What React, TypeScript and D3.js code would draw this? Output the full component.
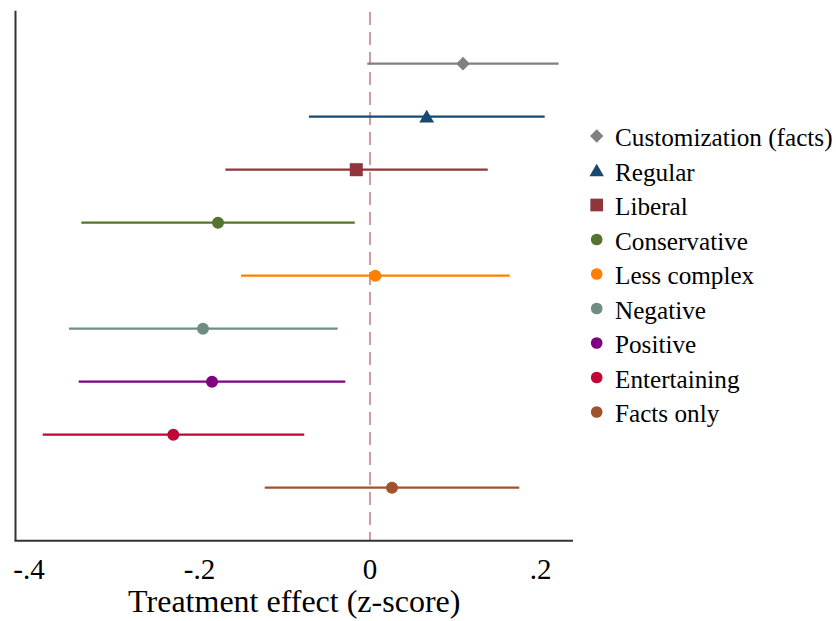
import React from "react";
import * as d3 from "d3";

const labels = [
  "Customization (facts)",
  "Regular",
  "Liberal",
  "Conservative",
  "Less complex",
  "Negative",
  "Positive",
  "Entertaining",
  "Facts only",
];
const estimates = [0.1091, 0.0665, -0.0161, -0.1783, 0.0062, -0.1959, -0.1853, -0.2307, 0.0258];
const lower = [-0.0032, -0.0716, -0.1697, -0.3386, -0.1513, -0.3531, -0.3417, -0.3839, -0.1235];
const upper = [0.2213, 0.2049, 0.1381, -0.0179, 0.1639, -0.0379, -0.029, -0.0771, 0.1751];
const colors = ["#808080", "#1a476f", "#90353b", "#55752f", "#ff8000", "#6e8e84", "#800080", "#c10534", "#a0522d"];
const shapes = ["diamond", "triangle", "square", "circle", "circle", "circle", "circle", "circle", "circle"];
const xTicks = [-0.4, -0.2, 0, 0.2];
const xTickLabels = ["-.4", "-.2", "0", ".2"];
const xTitle = "Treatment effect (z-score)";

const FONT = "Liberation Serif, Times New Roman, Times, serif";

function symbolPath(shape: string, size: number) {
  const t =
    shape === "diamond" ? d3.symbolDiamond2 :
    shape === "triangle" ? d3.symbolTriangle :
    shape === "square" ? d3.symbolSquare : d3.symbolCircle;
  return d3.symbol().type(t).size(size)();
}

function sizeFor(shape: string) {
  if (shape === "diamond") return 120;
  if (shape === "triangle") return 95;
  if (shape === "square") return 170;
  return 113;
}

export default function App() {
  const left = 15.5, right = 573, top = 10.7, bottom = 540.7;
  const x = d3.scaleLinear().domain([-0.4158, 0.2381]).range([left, right]);
  const y = d3.scaleLinear().domain([0, 10]).range([top, bottom]);
  const legendY = d3.scaleLinear().domain([0, 8]).range([136, 412]);
  const textStyle = { fontFamily: FONT };

  return (
    <svg width={836} height={621} style={{ position: "absolute", left: 0, top: 0, background: "#fff" }}>
      <rect width={836} height={621} fill="#fff" />
      <line x1={x(0)} x2={x(0)} y1={12} y2={bottom} stroke="#cc9ca0" strokeWidth={2} strokeDasharray="13,7" />
      {labels.map((l, i) => (
        <g key={l}>
          <line x1={x(lower[i])} x2={x(upper[i])} y1={y(i + 1)} y2={y(i + 1)} stroke={colors[i]} strokeWidth={2.2} />
          <path
            d={symbolPath(shapes[i], sizeFor(shapes[i])) || ""}
            transform={`translate(${x(estimates[i])},${y(i + 1) + (shapes[i] === "triangle" ? 1.5 : 0)})`}
            fill={colors[i]}
          />
        </g>
      ))}
      <line x1={left} x2={left} y1={top} y2={bottom} stroke="#333" strokeWidth={2} />
      <line x1={left - 1} x2={right} y1={bottom} y2={bottom} stroke="#333" strokeWidth={2} />
      {xTicks.map((t, i) => (
        <text key={t} x={x(t)} y={579} textAnchor="middle" style={textStyle} fontSize={29} fill="#000">
          {xTickLabels[i]}
        </text>
      ))}
      <text x={(left + right) / 2} y={612} textAnchor="middle" style={textStyle} fontSize={32} fill="#000">
        {xTitle}
      </text>
      {labels.map((l, i) => (
        <g key={"lg" + l}>
          <path
            d={symbolPath(shapes[i], sizeFor(shapes[i]) * 0.95) || ""}
            transform={`translate(596.7,${legendY(i) + (shapes[i] === "triangle" ? 1.5 : 0)})`}
            fill={colors[i]}
          />
          <text x={615} y={legendY(i)} dy="0.4em" style={textStyle} fontSize={25.2} fill="#000">
            {l}
          </text>
        </g>
      ))}
    </svg>
  );
}
